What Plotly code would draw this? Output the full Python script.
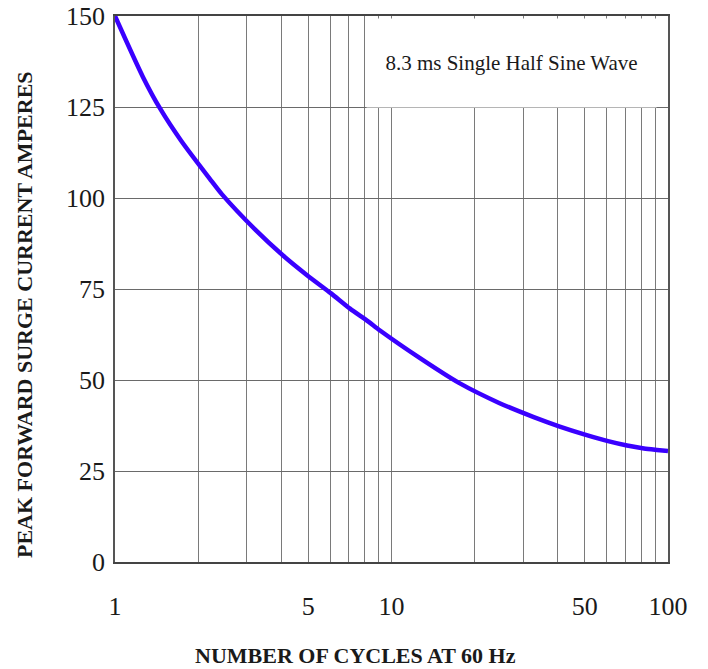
import plotly.graph_objects as go

# Data (cycles, peak forward surge current in A)
cycles = [1, 1.263, 1.455, 1.732, 2.206, 2.438, 3.236, 4.052, 4.949, 6.042,
          7.079, 8.227, 9.087, 12.68, 17.54, 24.5, 32.7, 40.6, 50.1, 60.7,
          71.1, 81.9, 91.2, 100]
current = [150, 133.2, 124.6, 115.8, 105.2, 101.0, 91.1, 84.2, 78.8, 73.8,
           69.6, 66.1, 63.6, 56.0, 49.2, 43.7, 39.8, 37.2, 35.0, 33.2,
           32.0, 31.2, 30.8, 30.5]

x_grid = [1, 2, 3, 4, 5, 6, 7, 8, 9, 10, 20, 30, 40, 50, 60, 70, 80, 90, 100]
x_labeled = {1: "1", 5: "5", 10: "10", 50: "50", 100: "100"}
y_ticks = [0, 25, 50, 75, 100, 125, 150]

note_text = "8.3 ms Single Half Sine Wave"
x_title = "NUMBER OF CYCLES AT 60 Hz"
y_title = "PEAK FORWARD SURGE CURRENT AMPERES"

serif = "Liberation Serif, Times New Roman, serif"
ink = "#1a1a1a"

fig = go.Figure()
fig.add_trace(go.Scatter(
    x=cycles, y=current, mode="lines",
    line=dict(color="#3a00ff", width=4.5, shape="spline", smoothing=0.7),
    cliponaxis=False, hoverinfo="x+y", showlegend=False,
))

fig.update_layout(
    width=708, height=669,
    margin=dict(l=115, r=40, t=16, b=107, autoexpand=False),
    paper_bgcolor="white", plot_bgcolor="white",
    font=dict(family=serif, color=ink),
    xaxis=dict(
        type="log", range=[0, 2], automargin=False,
        tickmode="array", tickvals=x_grid,
        ticktext=[x_labeled.get(v, "") for v in x_grid],
        showgrid=True, gridcolor="#7a7a7a", gridwidth=1,
        showline=True, linecolor="#444444", linewidth=1.5, mirror=True,
        ticks="", tickfont=dict(family=serif, size=26, color=ink),
        ticklabelstandoff=20, ticklabeloverflow="allow", zeroline=False,
    ),
    yaxis=dict(
        range=[0, 150], automargin=False, tickmode="array", tickvals=y_ticks,
        showgrid=True, gridcolor="#6a6a6a", gridwidth=1,
        showline=True, linecolor="#555555", linewidth=1.5, mirror=True,
        ticks="", tickfont=dict(family=serif, size=26, color=ink),
        ticklabelstandoff=3, ticklabeloverflow="allow",
        zeroline=False,
    ),
    annotations=[
        dict(text=note_text, xref="x domain", yref="y domain",
             x=(511.5 - 115) / 553, y=(562 - 63) / 546, showarrow=False,
             xanchor="center", yanchor="middle",
             width=289, height=88, bgcolor="white", borderpad=0,
             font=dict(family=serif, size=21, color=ink)),
        dict(text="<b>" + x_title + "</b>", xref="paper", yref="paper",
             x=(355.5 - 115) / 553, y=-(655 - 562) / 546, showarrow=False,
             xanchor="center", yanchor="middle",
             font=dict(family=serif, size=22, color=ink)),
        dict(text="<b>" + y_title + "</b>", xref="paper", yref="paper",
             x=(24 - 115) / 553, y=(562 - 315) / 546, showarrow=False,
             xanchor="center", yanchor="middle", textangle=-90,
             font=dict(family=serif, size=22, color=ink)),
    ],
)

fig.write_html(
    "out.html",
    config={"displayModeBar": False},
    post_script="document.body.style.margin='0';document.body.style.overflow='hidden';",
)
